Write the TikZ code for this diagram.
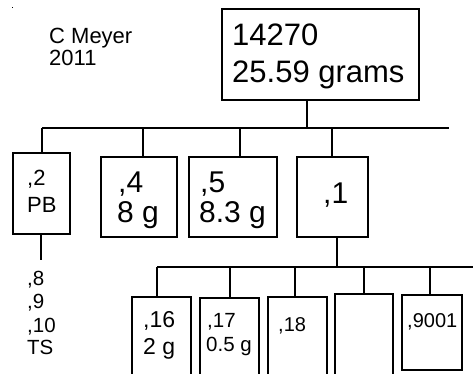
\documentclass[tikz,border=0pt]{standalone}
\usepackage{fontspec}
\setmainfont{Liberation Sans}
\begin{document}
\begin{tikzpicture}[x=1pt,y=-1pt,
  box/.style={draw, line width=1.2pt, inner sep=0pt, fill=white},
  wire/.style={line width=1.2pt},
  lbl/.style={anchor=base west, inner sep=0pt},
  fA/.style={font=\fontsize{31}{31}\selectfont},
  fB/.style={font=\fontsize{30}{30}\selectfont},
  fC/.style={font=\fontsize{22}{22}\selectfont},
  fD/.style={font=\fontsize{20.5}{20.5}\selectfont}]
\clip (0,0) rectangle (473,373);
\fill[white] (0,0) rectangle (473,373);
\fill (11.5,6.5) rectangle (12.5,7.5);
% author
\node[lbl,fC] (au1) at (49,43) {C Meyer};
\node[lbl,fC] (au2) at (49,65) {2011};
% top box
\node[box, minimum width=197pt, minimum height=91pt] (top) at (320.5,54.5) {};
\node[lbl,fA] (top1) at (232,45) {14270};
\node[lbl,fA] (top2) at (232,82) {25.59 grams};
% level 1 boxes
\node[box, minimum width=57pt, minimum height=81pt] (b2) at (41.5,193.5) {};
\node[box, minimum width=76pt, minimum height=80pt] (b4) at (139,197) {};
\node[box, minimum width=88pt, minimum height=80pt] (b5) at (233,197) {};
\node[box, minimum width=71pt, minimum height=80pt] (b1) at (332.5,197) {};
\node[lbl,fC] (t2a) at (27,185) {,2};
\node[lbl,fC] (t2b) at (27,212) {PB};
\node[lbl,fB] (t4a) at (118,192) {,4};
\node[lbl,fB] (t4b) at (117,222) {8 g};
\node[lbl,fB] (t5a) at (200,192) {,5};
\node[lbl,fB] (t5b) at (199,222) {8.3 g};
\node[lbl,fB] (t1a) at (323,203) {,1};
% level 1 bus
\coordinate (busL) at (42,128);
\coordinate (busR) at (449,128);
\draw[wire] (busL) -- (busR);
\draw[wire] ([xshift=-13.5pt]top.south) -- ([xshift=-13.5pt]top.south |- busL);
\draw[wire] ([xshift=0.5pt]b2.north) -- ([xshift=0.5pt]b2.north |- busL);
\draw[wire] ([xshift=4pt]b4.north) -- ([xshift=4pt]b4.north |- busL);
\draw[wire] ([xshift=7pt]b5.north) -- ([xshift=7pt]b5.north |- busL);
\draw[wire] ([xshift=-0.5pt]b1.north) -- ([xshift=-0.5pt]b1.north |- busL);
% under ,2
\coordinate (tsTop) at (41,260);
\draw[wire] ([xshift=-0.5pt]b2.south) -- (tsTop);
\node[lbl,fD] (ts1) at (27,285) {,8};
\node[lbl,fD] (ts2) at (27,308) {,9};
\node[lbl,fD] (ts3) at (27,332) {,10};
\node[lbl,fD] (ts4) at (27,354) {TS};
% level 2 boxes
\node[box, minimum width=59pt, minimum height=90pt] (b16) at (161.5,342) {};
\node[box, minimum width=59pt, minimum height=90pt] (b17) at (229.5,343) {};
\node[box, minimum width=59pt, minimum height=90pt] (b18) at (297.5,342) {};
\node[box, minimum width=58pt, minimum height=90pt] (bx) at (364,339) {};
\node[box, minimum width=60pt, minimum height=75pt] (b9001) at (432,332.5) {};
\node[lbl,font=\fontsize{23}{23}\selectfont] (t16a) at (143,327) {,16};
\node[lbl,font=\fontsize{23}{23}\selectfont] (t16b) at (143,354) {2 g};
\node[lbl,font=\fontsize{20.5}{20.5}\selectfont] (t17a) at (207,327) {,17};
\node[lbl,font=\fontsize{20.5}{20.5}\selectfont] (t17b) at (206,351) {0.5 g};
\node[lbl,font=\fontsize{20}{20}\selectfont] (t18a) at (278,331) {,18};
\node[lbl,font=\fontsize{20}{20}\selectfont] (t9001) at (407,327) {,9001};
% level 2 bus
\coordinate (bus2L) at (157,267);
\coordinate (bus2R) at (474,267);
\draw[wire] (bus2L) -- (bus2R);
\draw[wire] ([xshift=4.5pt]b1.south) -- ([xshift=4.5pt]b1.south |- bus2L);
\draw[wire] ([xshift=-4.5pt]b16.north) -- ([xshift=-4.5pt]b16.north |- bus2L);
\draw[wire] ([xshift=0.5pt]b17.north) -- ([xshift=0.5pt]b17.north |- bus2L);
\draw[wire] ([xshift=-2.5pt]b18.north) -- ([xshift=-2.5pt]b18.north |- bus2L);
\draw[wire] (bx.north) -- (bx.north |- bus2L);
\draw[wire] ([xshift=-2pt]b9001.north) -- ([xshift=-2pt]b9001.north |- bus2L);
\end{tikzpicture}
\end{document}
